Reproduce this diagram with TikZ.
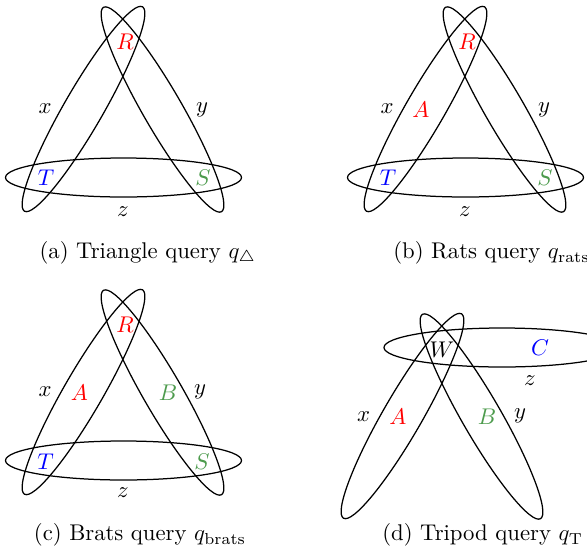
\documentclass[tikz,border=0pt]{standalone}
\usepackage{amssymb,amsmath}
\usetikzlibrary{calc,positioning}
\definecolor{lgreen}{RGB}{77,155,77}

\begin{document}
\begin{tikzpicture}[x=0.44pt,y=0.44pt,line width=0.55pt,
every node/.style={inner sep=0pt},
edge/.style={x radius=118,y radius=19.5},
subcap/.style={anchor=west}]
\useasboundingbox (0,0) rectangle (587,-550);
% (a) triangle
\begin{scope}[shift={(123.5,-42)}]
\coordinate (Pa) at (0,0);
\draw (-40,-67) ellipse [edge,rotate=60];
\draw (39,-67.5) ellipse [edge,rotate=-60];
\draw (0,-135.5) ellipse [edge];
\node[text=red] (Ra) at (1.5,0) {$R$};
\node[text=blue] (Ta) at (-77.5,-136) {$T$};
\node[text=lgreen] (Sa) at (79.5,-136) {$S$};
\node (xa) at (-78.5,-67) {$x$};
\node (ya) at (78.5,-68) {$y$};
\node (za) at (-0.5,-170) {$z$};
\end{scope}
\node[subcap] (capa) at (39,-253) {(a) Triangle query $q_\triangle$};
% (b) rats
\begin{scope}[shift={(465.5,-42)}]
\coordinate (Pb) at (0,0);
\draw (-40,-67) ellipse [edge,rotate=60];
\draw (39,-67.5) ellipse [edge,rotate=-60];
\draw (0,-135.5) ellipse [edge];
\node[text=red] (Rb) at (1.5,0) {$R$};
\node[text=red] (Ab) at (-44.5,-68) {$A$};
\node[text=blue] (Tb) at (-77.5,-136) {$T$};
\node[text=lgreen] (Sb) at (79.5,-136) {$S$};
\node (xb) at (-78.5,-67) {$x$};
\node (yb) at (78.5,-68) {$y$};
\node (zb) at (-0.5,-170) {$z$};
\end{scope}
\node[subcap] (capb) at (392.7,-253) {(b) Rats query $q_{\mathrm{rats}}$};
% (c) brats
\begin{scope}[shift={(123.5,-325)}]
\coordinate (Pc) at (0,0);
\draw (-40,-67) ellipse [edge,rotate=60];
\draw (39,-67.5) ellipse [edge,rotate=-60];
\draw (0,-135.5) ellipse [edge];
\node[text=red] (Rc) at (1.5,0) {$R$};
\node[text=red] (Ac) at (-44,-68) {$A$};
\node[text=lgreen] (Bc) at (44.5,-68) {$B$};
\node[text=blue] (Tc) at (-78,-137) {$T$};
\node[text=lgreen] (Sc) at (78.5,-137) {$S$};
\node (xc) at (-78.5,-67) {$x$};
\node (yc) at (76.5,-67) {$y$};
\node (zc) at (-0.5,-168) {$z$};
\end{scope}
\node[subcap] (capc) at (33.3,-535) {(c) Brats query $q_{\mathrm{brats}}$};
% (d) tripod
\begin{scope}[shift={(442.5,-349)}]
\coordinate (Pd) at (0,0);
\draw (-40,-67) ellipse [edge,rotate=60];
\draw (39,-67.5) ellipse [edge,rotate=-60];
\draw (59.5,1.5) ellipse [edge];
\node (Wd) at (-0.5,-1) {$W$};
\node[text=blue] (Cd) at (97.5,1) {$C$};
\node[text=red] (Ad) at (-44.5,-68) {$A$};
\node[text=lgreen] (Bd) at (44.5,-68) {$B$};
\node (xd) at (-79,-67.7) {$x$};
\node (yd) at (77.5,-67) {$y$};
\node (zd) at (87.5,-32) {$z$};
\end{scope}
\node[subcap] (capd) at (381.7,-535) {(d) Tripod query $q_{\mathrm{T}}$};
\end{tikzpicture}
\end{document}
